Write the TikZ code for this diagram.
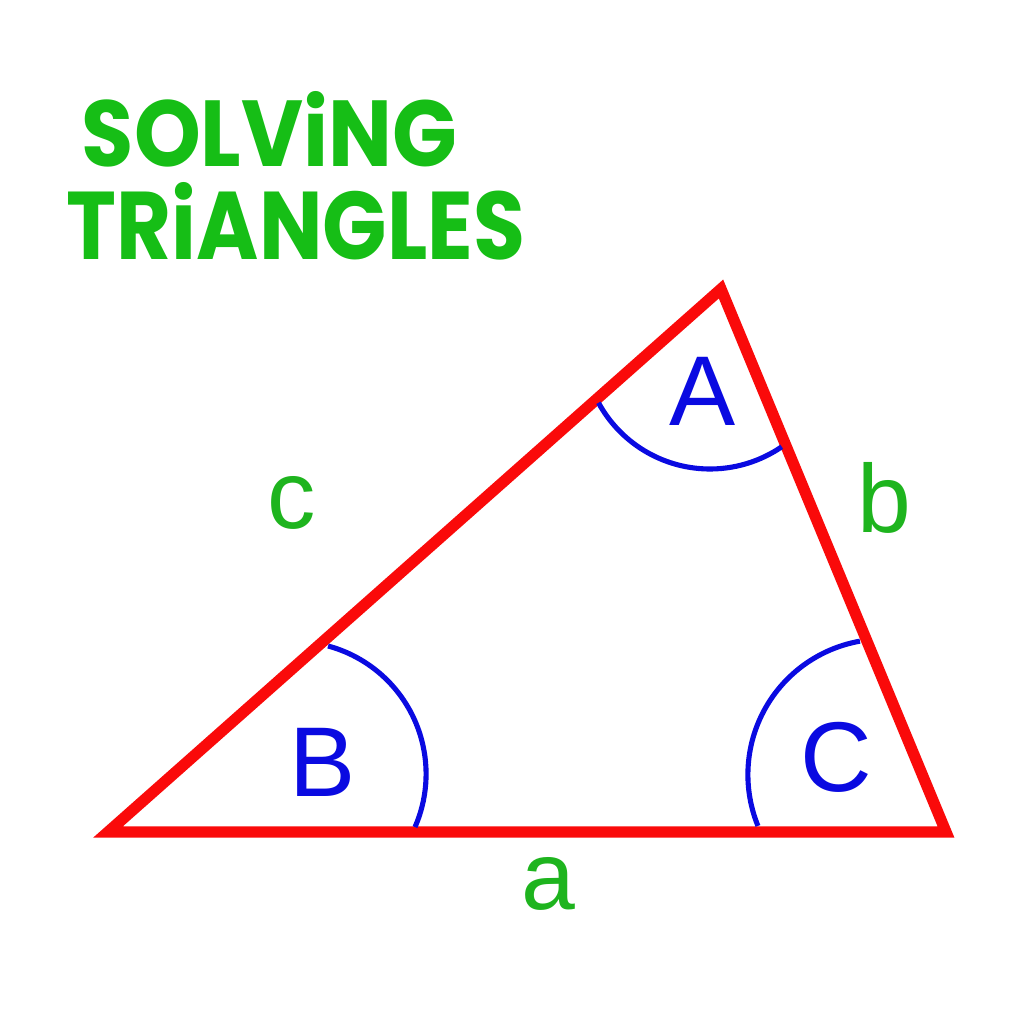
\documentclass[tikz,border=0pt]{standalone}
\usepackage{fontspec}
\setmainfont{Liberation Sans}
\newfontfamily\titlefont{Poppins}
\definecolor{tgreen}{RGB}{22,190,22}
\definecolor{lgreen}{RGB}{30,180,30}
\definecolor{tred}{RGB}{250,10,10}
\definecolor{tblue}{RGB}{10,10,225}
\begin{document}
\begin{tikzpicture}[x=0.01cm,y=-0.01cm,
  side/.style={draw=tred,line width=3.2pt,line join=miter},
  angarc/.style={draw=tblue,line width=1.45pt},
  anglab/.style={text=tblue,inner sep=0pt,font=\fontsize{28.2}{30}\selectfont},
  sidelab/.style={text=lgreen,inner sep=0pt,font=\fontsize{27.5}{30}\selectfont},
  titlelab/.style={text=tgreen,inner sep=0pt,font=\titlefont\bfseries}]
\fill[white] (0,0) rectangle (1024,1024);
\useasboundingbox (0,0) rectangle (1024,1024);
% title
\node[titlelab] (t1) at (269.5,129.5) {\resizebox{3.75cm}{0.75cm}{SOLViNG}};
\node[titlelab] (t2) at (296,221.5) {\resizebox{4.58cm}{0.77cm}{TRiANGLES}};
% triangle
\coordinate (vB) at (108,832);
\coordinate (vA) at (721,289);
\coordinate (vC) at (946,832);
\draw[side] (vB) -- (vA) -- (vC) -- cycle;
% angle arcs
\draw[angarc] (710,342) ++(151.4:127) arc[start angle=151.4,end angle=55.6,radius=127];
\draw[angarc] (293.5,774) ++(-74.9:132.6) arc[start angle=-74.9,end angle=23.6,radius=132.6];
\draw[angarc] (883.5,774.7) ++(260:135.6) arc[start angle=260,end angle=157.8,radius=135.6];
% angle labels
\node[anglab] (lA) at (703,391) {A};
\node[anglab] (lB) at (323,762) {B};
\node[anglab] (lC) at (836,757) {C};
% side labels
\node[sidelab] (la) at (548,884) {a};
\node[sidelab] (lb) at (884,498) {b};
\node[sidelab] (lc) at (292,503) {c};
\end{tikzpicture}
\end{document}
